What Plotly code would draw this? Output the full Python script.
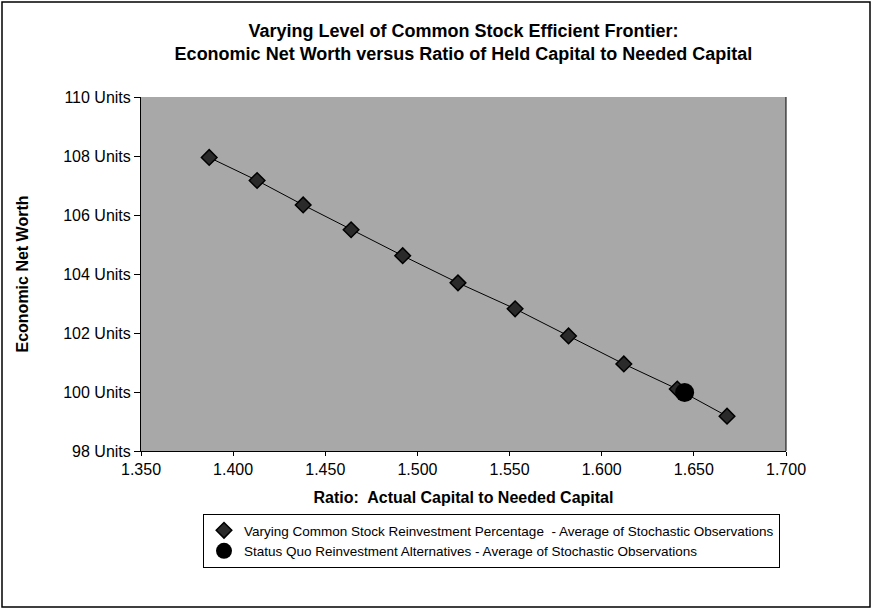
import plotly.graph_objects as go

# Efficient frontier: varying common stock reinvestment percentage
ratio_varying = [1.387, 1.413, 1.438, 1.464, 1.492, 1.522, 1.553, 1.582, 1.612, 1.641, 1.668]
worth_varying = [107.95, 107.17, 106.34, 105.5, 104.62, 103.7, 102.82, 101.9, 100.95, 100.1, 99.18]

# Status quo reinvestment alternative
ratio_status = [1.645]
worth_status = [99.98]

name_varying = "Varying Common Stock Reinvestment Percentage  - Average of Stochastic Observations"
name_status = "Status Quo Reinvestment Alternatives - Average of Stochastic Observations"

title_lines = [
    "Varying Level of Common Stock Efficient Frontier:",
    "Economic Net Worth versus Ratio of Held Capital to Needed Capital",
]
x_title = "Ratio:  Actual Capital to Needed Capital"
y_title = "Economic Net Worth"

FONT = "Arial, Liberation Sans, Helvetica, sans-serif"
W, H = 872, 609
L, R, T, B = 141, 86, 97, 158
PW, PH = W - L - R, H - T - B

fig = go.Figure()

# connecting line (no legend entry)
fig.add_trace(go.Scatter(
    x=ratio_varying, y=worth_varying, mode="lines",
    line=dict(color="black", width=1), showlegend=False, hoverinfo="skip",
))
fig.add_trace(go.Scatter(
    x=ratio_varying, y=worth_varying, mode="markers", name=name_varying,
    marker=dict(symbol="diamond", size=12, color="#2a2a2a",
                line=dict(color="black", width=1.5)),
))
fig.add_trace(go.Scatter(
    x=ratio_status, y=worth_status, mode="markers", name=name_status,
    marker=dict(symbol="circle", size=19, color="black",
                line=dict(color="black", width=0)),
))

fig.update_layout(
    width=W, height=H,
    margin=dict(l=L, r=R, t=T, b=B),
    paper_bgcolor="white",
    plot_bgcolor="#a8a8a8",
    font=dict(family=FONT, size=14, color="black"),
    title=dict(
        text="<b>" + "<br>".join(title_lines) + "</b>",
        x=0.5, xref="paper", xanchor="center",
        y=1 - 37 / H, yref="container", yanchor="middle",
        font=dict(family=FONT, size=18, color="black"),
    ),
    xaxis=dict(
        range=[1.35, 1.70], dtick=0.05, tick0=1.35, tickformat=".3f",
        showgrid=False, zeroline=False,
        showline=True, linecolor="black", linewidth=1, mirror=False,
        ticks="outside", ticklen=4, tickcolor="black",
        tickfont=dict(family=FONT, size=16),
        title=dict(text="<b>" + x_title + "</b>", standoff=14,
                   font=dict(family=FONT, size=16)),
    ),
    yaxis=dict(
        range=[98, 110], dtick=2, tick0=98, tickformat="d", ticksuffix=" Units",
        showgrid=False, zeroline=False,
        showline=True, linecolor="black", linewidth=1, mirror=False,
        ticks="outside", ticklen=6, tickcolor="black",
        tickfont=dict(family=FONT, size=16),
        title=dict(text="<b>" + y_title + "</b>", standoff=30,
                   font=dict(family=FONT, size=16)),
    ),
    legend=dict(
        x=(203 - L) / PW, y=(H - B - 514) / PH, xanchor="left", yanchor="top",
        bgcolor="white", bordercolor="black", borderwidth=1,
        font=dict(family=FONT, size=13.5), itemwidth=30,
        tracegroupgap=0,
    ),
    showlegend=True,
)

# right edge of the plot area
fig.add_shape(type="line", xref="paper", yref="paper",
              x0=1, x1=1, y0=0, y1=1, line=dict(color="black", width=1))

# outer chart border
fig.add_shape(type="rect", xref="paper", yref="paper",
              x0=(2 - L) / PW, x1=1 + (R - 2) / PW,
              y0=-(B - 2) / PH, y1=1 + (T - 2) / PH,
              line=dict(color="black", width=1.5), layer="below")

fig.write_html("out.html")
